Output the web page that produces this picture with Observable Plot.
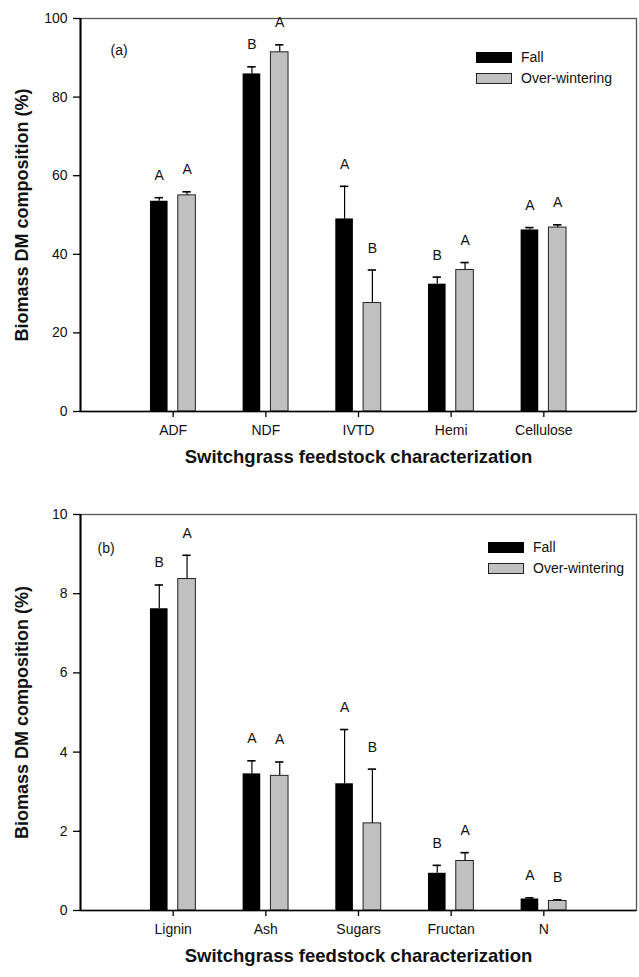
<!DOCTYPE html>
<html>
<head>
<meta charset="utf-8">
<script src="https://cdn.jsdelivr.net/npm/d3@7"></script>
<script src="https://cdn.jsdelivr.net/npm/@observablehq/plot@0.6"></script>
<style>
  html, body { margin: 0; padding: 0; background: #fff; overflow: hidden; }
  body { width: 639px; height: 977px; font-family: "Liberation Sans", Arial, sans-serif; }
  .panel { position: relative; width: 639px; }
  .panel svg { display: block; }
  .legend { position: absolute; font-size: 14px; color: #111; }
  .legend .row { position: absolute; left: 0; white-space: nowrap; height: 11px; }
  .legend .sw { position: absolute; left: 0; top: 0; width: 36px; height: 11px; box-sizing: border-box; }
  .legend .lab { position: absolute; left: 45px; top: -3px; line-height: 16px; }
</style>
</head>
<body>
<div id="chart"></div>
<script>
// ---- Data: panel (a) ----
const catsA = ["ADF", "NDF", "IVTD", "Hemi", "Cellulose"];
const fallA = [53.5, 85.9, 49.0, 32.4, 46.2];
const fallSeA = [0.9, 1.8, 8.3, 1.8, 0.6];
const overA = [55.0, 91.4, 27.6, 36.0, 46.8];
const overSeA = [0.9, 1.9, 8.4, 1.9, 0.7];
const fallLetA = ["A", "B", "A", "B", "A"];
const overLetA = ["A", "A", "B", "A", "A"];
const yTicksA = [0, 20, 40, 60, 80, 100];

// ---- Data: panel (b) ----
const catsB = ["Lignin", "Ash", "Sugars", "Fructan", "N"];
const fallB = [7.62, 3.45, 3.20, 0.94, 0.29];
const fallSeB = [0.60, 0.33, 1.37, 0.20, 0.03];
const overB = [8.37, 3.40, 2.20, 1.25, 0.24];
const overSeB = [0.60, 0.35, 1.37, 0.21, 0.03];
const fallLetB = ["B", "A", "A", "B", "A"];
const overLetB = ["A", "A", "B", "A", "B"];
const yTicksB = [0, 2, 4, 6, 8, 10];

const seriesNames = ["Fall", "Over-wintering"];
const xTitle = "Switchgrass feedstock characterization";
const yTitle = "Biomass DM composition (%)";

function makePanel(o) {
  const rows = [];
  o.cats.forEach((c, i) => {
    rows.push({cat: c, s: seriesNames[0], c: i + 1 - 0.15, v: o.fall[i], se: o.fallSe[i], let: o.fallLet[i]});
    rows.push({cat: c, s: seriesNames[1], c: i + 1 + 0.15, v: o.over[i], se: o.overSe[i], let: o.overLet[i]});
  });
  const fallRows = rows.filter(d => d.s === seriesNames[0]);
  const overRows = rows.filter(d => d.s === seriesNames[1]);
  const hw = 0.095, cap = 0.045;
  const plot = Plot.plot({
    width: 639,
    height: o.height,
    marginTop: o.marginTop,
    marginBottom: o.marginBottom,
    marginLeft: 80,
    marginRight: 3,
    style: {fontFamily: '"Liberation Sans", Arial, sans-serif', fontSize: "14px", color: "#111", background: "#fff"},
    x: {domain: [0, 6]},
    y: {domain: [0, o.yMax], nice: false},
    marks: [
      Plot.frame({stroke: "#555", strokeWidth: 1.3}),
      Plot.ruleX(rows, {x: "c", y1: "v", y2: d => d.v + d.se, stroke: "#000", strokeWidth: 1.2}),
      Plot.ruleY(rows, {y: d => d.v + d.se, x1: d => d.c - cap, x2: d => d.c + cap, stroke: "#000", strokeWidth: 1.6}),
      Plot.rect(fallRows, {x1: d => d.c - hw, x2: d => d.c + hw, y1: 0, y2: "v", fill: "#000"}),
      Plot.rect(overRows, {x1: d => d.c - hw, x2: d => d.c + hw, y1: 0, y2: "v", fill: "#c0c0c0", stroke: "#222", strokeWidth: 1}),
      Plot.text(rows, {x: "c", y: d => d.v + d.se, text: "let", dy: -22, fontSize: 14}),
      Plot.ruleX([0], {stroke: "#000", strokeWidth: 2}),
      Plot.ruleY([0], {stroke: "#000", strokeWidth: 1.6}),
      Plot.axisY({ticks: o.yTicks, tickSize: 7, tickPadding: 6, label: null, stroke: "#000", strokeWidth: 1.3}),
      Plot.axisX({ticks: [1, 2, 3, 4, 5], tickFormat: i => o.cats[i - 1], tickSize: 6, tickPadding: 8, label: null, stroke: "#000", strokeWidth: 1.3}),
      Plot.text([xTitle], {frameAnchor: "bottom", dy: 51, fontWeight: "bold", fontSize: 18.5, textAnchor: "middle"}),
      Plot.text([yTitle], {frameAnchor: "left", dx: -58, rotate: -90, fontWeight: "bold", fontSize: 18, textAnchor: "middle"}),
      Plot.text([o.tag], {frameAnchor: "top-left", dx: o.tagDx, dy: o.tagDy, textAnchor: "start", fontSize: 14})
    ]
  });
  const wrap = document.createElement("div");
  wrap.className = "panel";
  wrap.appendChild(plot);
  const leg = document.createElement("div");
  leg.className = "legend";
  leg.style.left = o.legLeft + "px";
  leg.style.top = o.legTop + "px";
  seriesNames.forEach((s, k) => {
    const r = document.createElement("div");
    r.className = "row";
    r.style.top = (k * 21) + "px";
    const sw = document.createElement("div");
    sw.className = "sw";
    if (k === 0) { sw.style.background = "#000"; }
    else { sw.style.background = "#c0c0c0"; sw.style.border = "1px solid #222"; }
    const lab = document.createElement("span");
    lab.className = "lab";
    lab.textContent = s;
    r.appendChild(sw); r.appendChild(lab);
    leg.appendChild(r);
  });
  wrap.appendChild(leg);
  return wrap;
}

const root = document.getElementById("chart");
root.appendChild(makePanel({
  cats: catsA, fall: fallA, fallSe: fallSeA, over: overA, overSe: overSeA,
  fallLet: fallLetA, overLet: overLetA, yMax: 100, yTicks: yTicksA,
  height: 488, marginTop: 18, marginBottom: 77, tag: "(a)", tagDx: 30, tagDy: 27,
  legLeft: 476, legTop: 52
}));
root.appendChild(makePanel({
  cats: catsB, fall: fallB, fallSe: fallSeB, over: overB, overSe: overSeB,
  fallLet: fallLetB, overLet: overLetB, yMax: 10, yTicks: yTicksB,
  height: 489, marginTop: 26, marginBottom: 67, tag: "(b)", tagDx: 17, tagDy: 29,
  legLeft: 488, legTop: 54
}));
</script>
</body>
</html>
